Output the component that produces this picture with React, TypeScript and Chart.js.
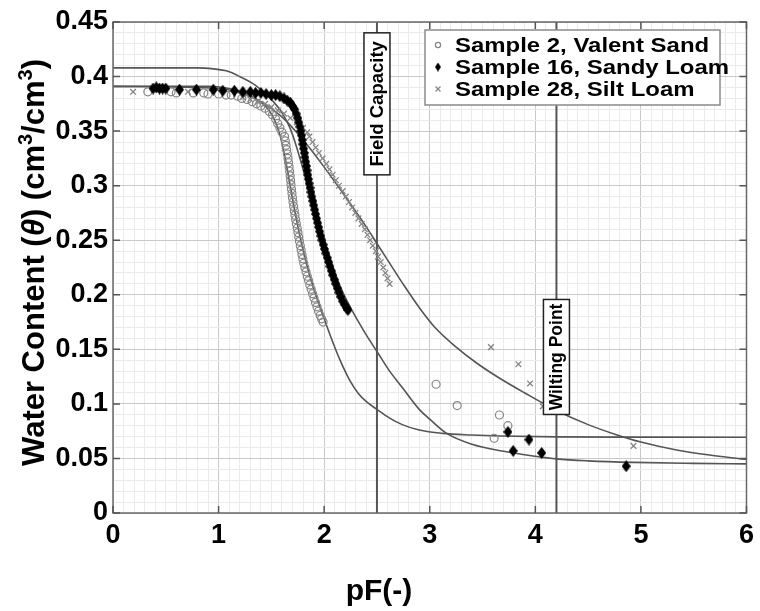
import React, { useEffect, useRef } from 'react';
import { Chart, registerables } from 'chart.js';

Chart.register(...registerables);

// ---------- axis ticks ----------
const X_TICK_VALUES = [0, 1, 2, 3, 4, 5, 6];
const X_TICK_LABELS = ['0', '1', '2', '3', '4', '5', '6'];
const Y_TICK_VALUES = [0, 0.05, 0.1, 0.15, 0.2, 0.25, 0.3, 0.35, 0.4, 0.45];
const Y_TICK_LABELS = ['0', '0.05', '0.1', '0.15', '0.2', '0.25', '0.3', '0.35', '0.4', '0.45'];

// ---------- reference lines ----------
const FIELD_CAPACITY_PF = 2.5;
const WILTING_POINT_PF = 4.2;
const FIELD_CAPACITY_LABEL_THETA = 0.375;
const WILTING_POINT_LABEL_THETA = 0.143;

// ---------- legend ----------
const SERIES_NAMES = ['Sample 2, Valent Sand', 'Sample 16, Sandy Loam', 'Sample 28, Silt Loam'];

// ---------- Sample 2 (Valent Sand) measured ----------
const s2PF = [
  0.33, 0.55, 0.6, 0.76, 0.86, 0.9, 1.0, 1.07, 1.12, 1.18, 1.22, 1.27, 1.32, 1.36, 1.4, 1.44, 1.48, 1.51, 1.54, 1.56, 1.58, 1.6,
  1.625, 1.632, 1.639, 1.645, 1.651, 1.657, 1.663, 1.668, 1.673, 1.678, 1.682, 1.686, 1.69, 1.695, 1.7, 1.705, 1.711, 1.717,
  1.723, 1.73, 1.737, 1.745, 1.752, 1.759, 1.766, 1.774, 1.782, 1.79, 1.798, 1.807, 1.817, 1.828, 1.84, 1.852, 1.864, 1.877,
  1.89, 1.904, 1.918, 1.932, 1.947, 1.962, 1.975, 1.99,
  3.06, 3.26, 3.61, 3.66, 3.74,
];
const s2Theta = [
  0.386, 0.386, 0.385, 0.385, 0.385, 0.384, 0.384, 0.383, 0.383, 0.382, 0.38, 0.379, 0.377, 0.375, 0.373, 0.371, 0.368, 0.365, 0.361, 0.357, 0.353, 0.349,
  0.345, 0.341, 0.337, 0.333, 0.329, 0.325, 0.321, 0.317, 0.313, 0.309, 0.305, 0.301, 0.297, 0.293, 0.289, 0.285, 0.281, 0.277,
  0.273, 0.269, 0.265, 0.261, 0.257, 0.253, 0.249, 0.245, 0.241, 0.237, 0.233, 0.229, 0.225, 0.221, 0.217, 0.213, 0.209, 0.205,
  0.201, 0.197, 0.193, 0.189, 0.185, 0.181, 0.178, 0.175,
  0.118, 0.0985, 0.0685, 0.0898, 0.08,
];

// ---------- Sample 16 (Sandy Loam) measured ----------
const s16PF = [
  0.38, 0.41, 0.44, 0.47, 0.5, 0.63, 0.79, 0.95, 1.04, 1.15, 1.23, 1.3, 1.35, 1.4, 1.45, 1.5, 1.54, 1.58, 1.62, 1.65, 1.68, 1.7,
  1.72, 1.735, 1.75, 1.76, 1.77, 1.78,
  1.785, 1.792, 1.798, 1.805, 1.812, 1.818, 1.825, 1.832, 1.838, 1.845, 1.851, 1.858, 1.866, 1.875, 1.883, 1.892, 1.901, 1.91,
  1.919, 1.928, 1.938, 1.947, 1.957, 1.968, 1.979, 1.991, 2.003, 2.016, 2.029, 2.042, 2.055, 2.068, 2.081, 2.095, 2.109, 2.124,
  2.14, 2.158, 2.176, 2.194, 2.212, 2.225,
  3.74, 3.79, 3.94, 4.06, 4.86,
];
const s16Theta = [
  0.389, 0.39, 0.389, 0.389, 0.389, 0.388, 0.388, 0.388, 0.387, 0.387, 0.386, 0.386, 0.385, 0.385, 0.384, 0.383, 0.383, 0.382, 0.38, 0.378, 0.376, 0.373,
  0.37, 0.366, 0.362, 0.358, 0.354, 0.35,
  0.346, 0.342, 0.338, 0.334, 0.33, 0.326, 0.322, 0.318, 0.314, 0.31, 0.306, 0.302, 0.298, 0.294, 0.29, 0.286, 0.282, 0.278,
  0.274, 0.27, 0.266, 0.262, 0.258, 0.254, 0.25, 0.246, 0.242, 0.238, 0.234, 0.23, 0.226, 0.222, 0.218, 0.214, 0.21, 0.206,
  0.202, 0.198, 0.194, 0.191, 0.188, 0.186,
  0.0743, 0.0569, 0.0673, 0.0551, 0.0429,
];

// ---------- Sample 28 (Silt Loam) measured ----------
const s28PF = [
  0.19, 0.71, 1.23, 1.3, 1.37, 1.44, 1.5, 1.56, 1.62, 1.68, 1.74, 1.8, 1.84,
  1.86, 1.89, 1.92, 1.95, 1.985, 2.02, 2.05, 2.08, 2.11, 2.14, 2.175, 2.205, 2.235, 2.265, 2.295, 2.325, 2.355, 2.385, 2.41,
  2.435, 2.46, 2.49, 2.51, 2.535, 2.56, 2.58, 2.6, 2.62,
  3.58, 3.84, 3.95, 4.07, 4.93,
];
const s28Theta = [
  0.386, 0.386, 0.381, 0.379, 0.377, 0.375, 0.372, 0.369, 0.366, 0.362, 0.358, 0.353, 0.349,
  0.345, 0.34, 0.335, 0.33, 0.325, 0.32, 0.315, 0.31, 0.305, 0.3, 0.295, 0.29, 0.285, 0.28, 0.275, 0.27, 0.265, 0.26, 0.255,
  0.25, 0.245, 0.24, 0.235, 0.23, 0.225, 0.22, 0.215, 0.21,
  0.152, 0.1364, 0.1187, 0.0977, 0.0615,
];

// ---------- fitted curves ----------
const fit2PF = [0, 0.9, 1.1, 1.25, 1.38, 1.47, 1.53, 1.58, 1.62, 1.66, 1.7, 1.74, 1.79, 1.85, 1.92, 2.0, 2.08, 2.16, 2.24, 2.32, 2.4, 2.5, 2.62, 2.74, 2.9, 3.12, 3.4, 3.67, 4.2, 5.0, 6.0];
const fit2Theta = [0.391, 0.391, 0.389, 0.385, 0.378, 0.37, 0.36, 0.347, 0.33, 0.31, 0.288, 0.268, 0.245, 0.222, 0.2, 0.178, 0.157, 0.138, 0.122, 0.11, 0.102, 0.095, 0.087, 0.081, 0.076, 0.073, 0.0715, 0.0706, 0.0698, 0.0695, 0.0694];

const fit16PF = [0, 0.8, 0.95, 1.08, 1.2, 1.35, 1.47, 1.6, 1.68, 1.74, 1.8, 1.86, 1.93, 2.0, 2.08, 2.16, 2.24, 2.32, 2.4, 2.5, 2.62, 2.74, 2.9, 3.0, 3.16, 3.4, 3.67, 4.0, 4.2, 4.5, 4.93, 5.5, 6.0];
const fit16Theta = [0.408, 0.408, 0.407, 0.405, 0.4, 0.392, 0.382, 0.367, 0.352, 0.335, 0.315, 0.295, 0.272, 0.25, 0.226, 0.206, 0.19, 0.176, 0.163, 0.148, 0.13, 0.115, 0.095, 0.086, 0.073, 0.063, 0.057, 0.052, 0.0496, 0.0478, 0.0464, 0.0455, 0.045];

const fit28PF = [0, 1.0, 1.2, 1.4, 1.6, 1.8, 2.0, 2.2, 2.4, 2.5, 2.6, 2.75, 2.91, 3.05, 3.25, 3.45, 3.67, 3.9, 4.2, 4.5, 4.76, 5.0, 5.35, 5.7, 6.0];
const fit28Theta = [0.391, 0.389, 0.385, 0.377, 0.363, 0.342, 0.317, 0.29, 0.262, 0.247, 0.232, 0.2095, 0.187, 0.17, 0.152, 0.137, 0.123, 0.11, 0.094, 0.081, 0.072, 0.065, 0.0575, 0.0525, 0.049];

const pts = (xs: number[], ys: number[]) => xs.map((x, i) => ({ x, y: ys[i] }));

const FONT = "'Liberation Sans', Arial, Helvetica, sans-serif";
const MARKER_GRAY = '#858585';
const LINE_GRAY = '#555555';

function makeDiamond(w: number, h: number, color: string) {
  const c = document.createElement('canvas');
  c.width = w;
  c.height = h;
  const g = c.getContext('2d')!;
  g.fillStyle = color;
  g.beginPath();
  g.moveTo(w / 2, 0);
  g.lineTo(w, h / 2);
  g.lineTo(w / 2, h);
  g.lineTo(0, h / 2);
  g.closePath();
  g.fill();
  return c;
}

const near = (v: number, step: number) => Math.abs(v / step - Math.round(v / step)) < 1e-6;

export default function App() {
  const ref = useRef<HTMLCanvasElement>(null);

  useEffect(() => {
    const canvas = ref.current;
    if (!canvas) return;
    const diamond = makeDiamond(9, 12, '#000');
    const smallDiamond = makeDiamond(6, 9, '#000');

    const decor = {
      id: 'decor',
      afterDatasetsDraw(chart: any) {
        const { ctx, chartArea: a, scales } = chart;
        const x = scales.x;
        const y = scales.y;
        ctx.save();
        // box border
        ctx.strokeStyle = '#6a6a6a';
        ctx.lineWidth = 1.5;
        ctx.strokeRect(a.left, a.top, a.right - a.left, a.bottom - a.top);
        // inward ticks
        ctx.strokeStyle = '#555';
        ctx.lineWidth = 1.5;
        ctx.beginPath();
        X_TICK_VALUES.forEach((v) => {
          const px = x.getPixelForValue(v);
          ctx.moveTo(px, a.bottom);
          ctx.lineTo(px, a.bottom - 7);
          ctx.moveTo(px, a.top);
          ctx.lineTo(px, a.top + 7);
        });
        Y_TICK_VALUES.forEach((v) => {
          const py = y.getPixelForValue(v);
          ctx.moveTo(a.left, py);
          ctx.lineTo(a.left + 7, py);
          ctx.moveTo(a.right, py);
          ctx.lineTo(a.right - 7, py);
        });
        ctx.stroke();

        // vertical labelled boxes
        const vbox = (pf: number, theta: number, text: string, size: number, h: number) => {
          const cx = x.getPixelForValue(pf);
          const cy = y.getPixelForValue(theta);
          const w = 26;
          ctx.fillStyle = '#fff';
          ctx.fillRect(cx - w / 2, cy - h / 2, w, h);
          ctx.strokeStyle = '#222';
          ctx.lineWidth = 1.5;
          ctx.strokeRect(cx - w / 2, cy - h / 2, w, h);
          ctx.save();
          ctx.translate(cx, cy);
          ctx.rotate(-Math.PI / 2);
          ctx.font = `bold ${size}px ${FONT}`;
          ctx.fillStyle = '#000';
          ctx.textAlign = 'center';
          ctx.textBaseline = 'middle';
          ctx.fillText(text, 0, 1);
          ctx.restore();
        };
        vbox(FIELD_CAPACITY_PF, FIELD_CAPACITY_LABEL_THETA, 'Field Capacity', 18.5, 142);
        vbox(WILTING_POINT_PF, WILTING_POINT_LABEL_THETA, 'Wilting Point', 17.5, 115);

        // legend
        const lx = a.left + 312;
        const ly = a.top + 8;
        const lw = 295;
        const lh = 75;
        ctx.fillStyle = '#fff';
        ctx.fillRect(lx, ly, lw, lh);
        ctx.strokeStyle = '#8a8a8a';
        ctx.lineWidth = 1.5;
        ctx.strokeRect(lx, ly, lw, lh);
        const rows = [ly + 15, ly + 37, ly + 59];
        const mx = lx + 13;
        ctx.strokeStyle = MARKER_GRAY;
        ctx.lineWidth = 1.2;
        ctx.beginPath();
        ctx.arc(mx, rows[0], 2.6, 0, Math.PI * 2);
        ctx.stroke();
        ctx.drawImage(smallDiamond, mx - 3, rows[1] - 4.5);
        ctx.beginPath();
        ctx.moveTo(mx - 2.5, rows[2] - 2.5);
        ctx.lineTo(mx + 2.5, rows[2] + 2.5);
        ctx.moveTo(mx + 2.5, rows[2] - 2.5);
        ctx.lineTo(mx - 2.5, rows[2] + 2.5);
        ctx.stroke();
        ctx.fillStyle = '#000';
        ctx.font = `bold 21px ${FONT}`;
        ctx.textAlign = 'left';
        ctx.textBaseline = 'middle';
        SERIES_NAMES.forEach((name, i) => {
          ctx.save();
          ctx.translate(lx + 30, rows[i] + 1);
          ctx.scale(1.14, 1);
          ctx.fillText(name, 0, 0);
          ctx.restore();
        });
        ctx.restore();
      },
      afterDraw(chart: any) {
        const { ctx, chartArea: a } = chart;
        ctx.save();
        ctx.fillStyle = '#000';
        ctx.font = `bold 30px ${FONT}`;
        ctx.textAlign = 'center';
        ctx.textBaseline = 'alphabetic';
        ctx.fillText('pF(-)', 379, 600);
        const main = `bold 31px ${FONT}`;
        const ital = `italic bold 31px ${FONT}`;
        const sup = `bold 20px ${FONT}`;
        const parts: [string, string, number][] = [
          ['Water Content (', main, 0],
          ['\u03B8', ital, 0],
          [') (cm', main, 0],
          ['3', sup, -12],
          ['/cm', main, 0],
          ['3', sup, -12],
          [')', main, 0],
        ];
        let total = 0;
        parts.forEach(([t, f]) => {
          ctx.font = f;
          total += ctx.measureText(t).width;
        });
        ctx.translate(44, (a.top + a.bottom) / 2 - 5);
        ctx.rotate(-Math.PI / 2);
        ctx.textAlign = 'left';
        let cx = -total / 2;
        parts.forEach(([t, f, dy]) => {
          ctx.font = f;
          ctx.fillText(t, cx, dy);
          cx += ctx.measureText(t).width;
        });
        ctx.restore();
      },
    };

    const gridColor = (step: number) => (c: any) =>
      c.tick && near(c.tick.value, step) ? '#c9c9c9' : '#ebebeb';

    const chart = new Chart(canvas, {
      type: 'line',
      data: {
        datasets: [
          {
            label: SERIES_NAMES[1],
            data: pts(s16PF, s16Theta),
            showLine: false,
            pointStyle: diamond as any,
            pointRadius: 5,
            order: 1,
          },
          {
            label: SERIES_NAMES[0],
            data: pts(s2PF, s2Theta),
            showLine: false,
            pointStyle: 'circle',
            pointRadius: 4,
            pointBorderWidth: 1.2,
            pointBorderColor: MARKER_GRAY,
            pointBackgroundColor: 'rgba(0,0,0,0)',
            order: 2,
          },
          {
            label: SERIES_NAMES[2],
            data: pts(s28PF, s28Theta),
            showLine: false,
            pointStyle: 'crossRot',
            pointRadius: 4,
            pointBorderWidth: 1.3,
            pointBorderColor: MARKER_GRAY,
            order: 3,
          },
          {
            label: 'fit 2',
            data: pts(fit2PF, fit2Theta),
            borderColor: LINE_GRAY,
            borderWidth: 1.6,
            pointRadius: 0,
            cubicInterpolationMode: 'monotone',
            order: 4,
          },
          {
            label: 'fit 16',
            data: pts(fit16PF, fit16Theta),
            borderColor: LINE_GRAY,
            borderWidth: 1.6,
            pointRadius: 0,
            cubicInterpolationMode: 'monotone',
            order: 4,
          },
          {
            label: 'fit 28',
            data: pts(fit28PF, fit28Theta),
            borderColor: LINE_GRAY,
            borderWidth: 1.6,
            pointRadius: 0,
            cubicInterpolationMode: 'monotone',
            order: 4,
          },
          {
            label: 'Field Capacity',
            data: [
              { x: FIELD_CAPACITY_PF, y: Y_TICK_VALUES[0] },
              { x: FIELD_CAPACITY_PF, y: Y_TICK_VALUES[Y_TICK_VALUES.length - 1] },
            ],
            borderColor: LINE_GRAY,
            borderWidth: 2,
            pointRadius: 0,
            order: 5,
          },
          {
            label: 'Wilting Point',
            data: [
              { x: WILTING_POINT_PF, y: Y_TICK_VALUES[0] },
              { x: WILTING_POINT_PF, y: Y_TICK_VALUES[Y_TICK_VALUES.length - 1] },
            ],
            borderColor: LINE_GRAY,
            borderWidth: 2,
            pointRadius: 0,
            order: 5,
          },
        ] as any,
      },
      options: {
        responsive: false,
        devicePixelRatio: 1,
        animation: false,
        events: [],
        layout: { padding: { top: 22, right: 12, left: 0, bottom: 0 } },
        plugins: { legend: { display: false }, tooltip: { enabled: false } },
        scales: {
          x: {
            type: 'linear',
            min: 0,
            max: 6,
            afterFit: (s: any) => {
              s.height = 98;
            },
            border: { display: false },
            grid: { color: gridColor(1), lineWidth: 1, drawTicks: false },
            ticks: {
              stepSize: 0.1,
              maxTicksLimit: 1000,
              autoSkip: false,
              maxRotation: 0,
              padding: 6,
              color: '#000',
              font: { family: FONT, size: 27, weight: 'bold' },
              callback: (v: any) => {
                const i = X_TICK_VALUES.findIndex((t) => Math.abs(t - Number(v)) < 1e-6);
                return i >= 0 ? X_TICK_LABELS[i] : '';
              },
            },
          },
          y: {
            type: 'linear',
            min: 0,
            max: 0.45,
            afterFit: (s: any) => {
              s.width = 113;
            },
            border: { display: false },
            grid: { color: gridColor(0.05), lineWidth: 1, drawTicks: false },
            ticks: {
              stepSize: 0.01,
              maxTicksLimit: 1000,
              autoSkip: false,
              padding: 5,
              color: '#000',
              font: { family: FONT, size: 27, weight: 'bold' },
              callback: (v: any) => {
                const i = Y_TICK_VALUES.findIndex((t) => Math.abs(t - Number(v)) < 1e-6);
                return i >= 0 ? Y_TICK_LABELS[i] : '';
              },
            },
          },
        },
      } as any,
      plugins: [decor],
    });

    return () => chart.destroy();
  }, []);

  return (
    <canvas
      ref={ref}
      width={760}
      height={611}
      style={{ position: 'absolute', left: 0, top: 0, background: '#fff' }}
    />
  );
}
